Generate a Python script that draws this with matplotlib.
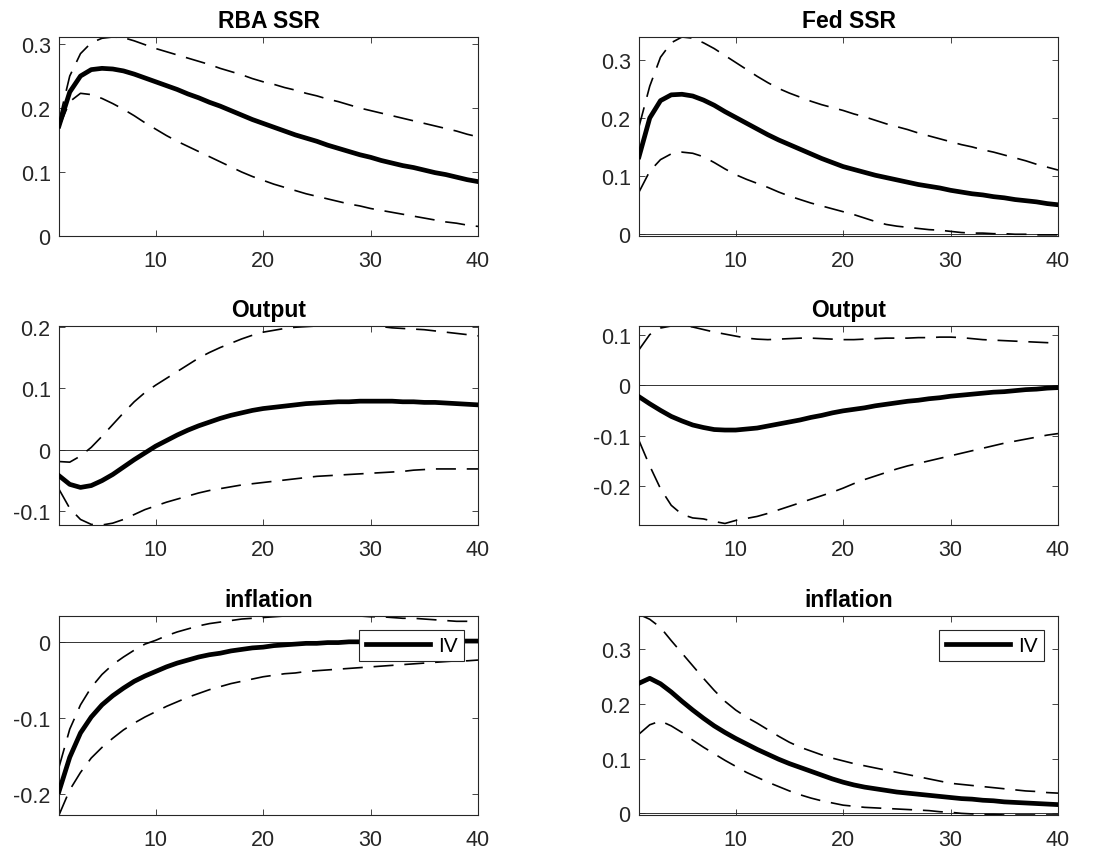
import matplotlib
matplotlib.use("Agg")
import matplotlib.pyplot as plt
from matplotlib.ticker import FixedLocator, FuncFormatter

plt.rcParams['font.family'] = ['Liberation Sans', 'DejaVu Sans']

horizons = list(range(1, 41))

titles = ["RBA SSR", "Fed SSR", "Output", "Output", "inflation", "inflation"]

rba_ssr_mid = [0.172, 0.225, 0.250, 0.260, 0.262, 0.261, 0.258, 0.253, 0.247, 0.241,
               0.235, 0.229, 0.222, 0.216, 0.209, 0.203, 0.196, 0.189, 0.182, 0.176,
               0.170, 0.164, 0.158, 0.153, 0.148, 0.142, 0.137, 0.132, 0.127, 0.123,
               0.118, 0.114, 0.110, 0.107, 0.103, 0.099, 0.096, 0.092, 0.088, 0.085]
rba_ssr_hi = [0.180, 0.250, 0.285, 0.302, 0.309, 0.311, 0.310, 0.305, 0.299, 0.293,
              0.288, 0.283, 0.278, 0.273, 0.268, 0.262, 0.257, 0.252, 0.246, 0.241,
              0.237, 0.232, 0.228, 0.223, 0.219, 0.214, 0.210, 0.205, 0.200, 0.196,
              0.192, 0.188, 0.184, 0.180, 0.176, 0.172, 0.168, 0.164, 0.159, 0.155]
rba_ssr_lo = [0.170, 0.210, 0.223, 0.221, 0.215, 0.207, 0.198, 0.188, 0.177, 0.167,
              0.157, 0.148, 0.140, 0.132, 0.124, 0.116, 0.108, 0.100, 0.093, 0.087,
              0.081, 0.076, 0.071, 0.066, 0.062, 0.058, 0.054, 0.050, 0.047, 0.043,
              0.040, 0.037, 0.034, 0.031, 0.028, 0.025, 0.022, 0.020, 0.017, 0.015]

fed_ssr_mid = [0.133, 0.200, 0.230, 0.240, 0.241, 0.238, 0.231, 0.222, 0.211, 0.201,
               0.191, 0.181, 0.171, 0.162, 0.154, 0.146, 0.138, 0.130, 0.123, 0.116,
               0.111, 0.106, 0.101, 0.097, 0.093, 0.089, 0.085, 0.082, 0.079, 0.075,
               0.072, 0.069, 0.067, 0.064, 0.062, 0.059, 0.057, 0.055, 0.052, 0.050]
fed_ssr_hi = [0.185, 0.255, 0.305, 0.330, 0.340, 0.338, 0.330, 0.320, 0.308, 0.296,
              0.284, 0.272, 0.261, 0.251, 0.243, 0.236, 0.229, 0.223, 0.218, 0.213,
              0.207, 0.202, 0.196, 0.190, 0.185, 0.180, 0.174, 0.169, 0.164, 0.159,
              0.154, 0.150, 0.145, 0.141, 0.136, 0.131, 0.126, 0.120, 0.115, 0.110]
fed_ssr_lo = [0.072, 0.108, 0.128, 0.138, 0.141, 0.139, 0.133, 0.123, 0.112, 0.102,
              0.094, 0.087, 0.080, 0.072, 0.065, 0.059, 0.053, 0.048, 0.043, 0.038,
              0.033, 0.027, 0.021, 0.016, 0.013, 0.011, 0.009, 0.007, 0.006, 0.004,
              0.002, 0.001, 0.001, 0.000, 0.000, -0.001, -0.001, -0.002, -0.002, -0.002]

au_output_mid = [-0.042, -0.056, -0.061, -0.058, -0.050, -0.040, -0.028, -0.016, -0.005, 0.006,
                 0.015, 0.024, 0.032, 0.039, 0.045, 0.051, 0.056, 0.060, 0.064, 0.067,
                 0.069, 0.071, 0.073, 0.075, 0.076, 0.077, 0.078, 0.078, 0.079, 0.079,
                 0.079, 0.079, 0.078, 0.078, 0.077, 0.077, 0.076, 0.075, 0.074, 0.073]
au_output_hi = [-0.019, -0.020, -0.010, 0.004, 0.022, 0.041, 0.060, 0.078, 0.093, 0.105,
                0.116, 0.127, 0.138, 0.149, 0.158, 0.166, 0.173, 0.180, 0.186, 0.191,
                0.194, 0.197, 0.199, 0.200, 0.201, 0.201, 0.202, 0.203, 0.203, 0.202,
                0.200, 0.198, 0.197, 0.196, 0.195, 0.193, 0.191, 0.189, 0.187, 0.185]
au_output_lo = [-0.064, -0.095, -0.113, -0.121, -0.122, -0.119, -0.113, -0.105, -0.097, -0.091,
                -0.085, -0.080, -0.075, -0.070, -0.066, -0.063, -0.060, -0.057, -0.055, -0.053,
                -0.051, -0.049, -0.047, -0.045, -0.043, -0.042, -0.041, -0.040, -0.039, -0.038,
                -0.037, -0.036, -0.035, -0.033, -0.032, -0.031, -0.031, -0.031, -0.031, -0.031]

us_output_mid = [-0.023, -0.037, -0.050, -0.062, -0.071, -0.079, -0.084, -0.088, -0.089, -0.089,
                 -0.087, -0.085, -0.081, -0.077, -0.073, -0.069, -0.064, -0.060, -0.055, -0.051,
                 -0.048, -0.045, -0.041, -0.038, -0.035, -0.032, -0.030, -0.027, -0.025, -0.022,
                 -0.020, -0.018, -0.016, -0.014, -0.013, -0.011, -0.009, -0.008, -0.006, -0.005]
us_output_hi = [0.070, 0.100, 0.113, 0.117, 0.118, 0.115, 0.110, 0.105, 0.101, 0.097,
                0.093, 0.091, 0.090, 0.091, 0.092, 0.093, 0.093, 0.092, 0.091, 0.090,
                0.090, 0.091, 0.092, 0.093, 0.093, 0.093, 0.094, 0.094, 0.095, 0.095,
                0.094, 0.092, 0.090, 0.089, 0.088, 0.087, 0.086, 0.085, 0.084, 0.083]
us_output_lo = [-0.110, -0.160, -0.205, -0.238, -0.256, -0.263, -0.265, -0.270, -0.274, -0.268,
                -0.264, -0.260, -0.254, -0.247, -0.240, -0.233, -0.226, -0.219, -0.212, -0.204,
                -0.195, -0.187, -0.180, -0.173, -0.166, -0.160, -0.155, -0.150, -0.145, -0.140,
                -0.135, -0.130, -0.125, -0.120, -0.115, -0.111, -0.107, -0.103, -0.099, -0.096]

au_infl_mid = [-0.197, -0.152, -0.120, -0.099, -0.083, -0.071, -0.061, -0.052, -0.045, -0.039,
               -0.033, -0.028, -0.024, -0.020, -0.017, -0.015, -0.012, -0.010, -0.008, -0.007,
               -0.005, -0.004, -0.003, -0.002, -0.002, -0.001, -0.001, 0.000, 0.000, 0.000,
               0.001, 0.001, 0.001, 0.001, 0.001, 0.001, 0.001, 0.001, 0.001, 0.001]
au_infl_hi = [-0.165, -0.115, -0.083, -0.060, -0.043, -0.030, -0.020, -0.011, -0.003, 0.002,
              0.008, 0.013, 0.017, 0.021, 0.024, 0.026, 0.028, 0.030, 0.031, 0.032,
              0.033, 0.034, 0.034, 0.035, 0.035, 0.035, 0.035, 0.034, 0.034, 0.033,
              0.033, 0.032, 0.031, 0.031, 0.030, 0.029, 0.028, 0.027, 0.027, 0.026]
au_infl_lo = [-0.228, -0.195, -0.172, -0.153, -0.139, -0.127, -0.116, -0.107, -0.099, -0.092,
              -0.085, -0.079, -0.073, -0.068, -0.063, -0.059, -0.055, -0.052, -0.049, -0.046,
              -0.044, -0.042, -0.041, -0.039, -0.038, -0.037, -0.036, -0.035, -0.034, -0.033,
              -0.032, -0.031, -0.030, -0.029, -0.028, -0.027, -0.026, -0.025, -0.025, -0.024]

us_infl_mid = [0.238, 0.247, 0.237, 0.222, 0.205, 0.189, 0.174, 0.160, 0.148, 0.137,
               0.127, 0.117, 0.108, 0.099, 0.091, 0.084, 0.077, 0.070, 0.063, 0.057,
               0.052, 0.048, 0.045, 0.042, 0.039, 0.037, 0.035, 0.033, 0.031, 0.029,
               0.027, 0.026, 0.024, 0.023, 0.021, 0.020, 0.019, 0.018, 0.017, 0.016]
us_infl_hi = [0.364, 0.355, 0.340, 0.316, 0.293, 0.270, 0.247, 0.225, 0.205, 0.189,
              0.176, 0.165, 0.153, 0.141, 0.130, 0.121, 0.114, 0.107, 0.101, 0.096,
              0.091, 0.087, 0.083, 0.079, 0.075, 0.071, 0.067, 0.063, 0.059, 0.055,
              0.053, 0.051, 0.049, 0.047, 0.045, 0.043, 0.041, 0.040, 0.038, 0.037]
us_infl_lo = [0.145, 0.162, 0.169, 0.160, 0.148, 0.134, 0.121, 0.109, 0.097, 0.086,
              0.075, 0.066, 0.057, 0.049, 0.041, 0.034, 0.028, 0.023, 0.019, 0.015,
              0.013, 0.011, 0.010, 0.009, 0.008, 0.007, 0.006, 0.005, 0.003, 0.002,
              0.000, -0.001, -0.002, -0.002, -0.003, -0.003, -0.003, -0.003, -0.003, -0.003]

series = [
    (rba_ssr_mid, rba_ssr_lo, rba_ssr_hi),
    (fed_ssr_mid, fed_ssr_lo, fed_ssr_hi),
    (au_output_mid, au_output_lo, au_output_hi),
    (us_output_mid, us_output_lo, us_output_hi),
    (au_infl_mid, au_infl_lo, au_infl_hi),
    (us_infl_mid, us_infl_lo, us_infl_hi),
]

ylims = [(0.0, 0.311), (-0.004, 0.340), (-0.122, 0.201),
         (-0.277, 0.117), (-0.228, 0.034), (-0.003, 0.361)]
yticks = [[0, 0.1, 0.2, 0.3], [0, 0.1, 0.2, 0.3], [-0.1, 0, 0.1, 0.2],
          [-0.2, -0.1, 0, 0.1], [-0.2, -0.1, 0], [0, 0.1, 0.2, 0.3]]
xticks = [10, 20, 30, 40]
legend_label = "IV"

W, H = 1102, 853
fig = plt.figure(figsize=(W / 100, H / 100), dpi=100)

col_x = [59, 639]
row_top = [38, 327, 617]
ax_w, ax_h = 419, 199

axis_col = '#262626'

def fmt(v, pos):
    if abs(v) < 1e-9:
        return "0"
    return ("%g" % v)

for i in range(6):
    r, c = divmod(i, 2)
    left = col_x[c] / W
    bottom = 1 - (row_top[r] + ax_h) / H
    ax = fig.add_axes([left, bottom, ax_w / W, ax_h / H])
    mid, lo, hi = series[i]
    ax.axhline(0, color='#333333', lw=0.7, zorder=1)
    ax.plot(horizons, hi, color='black', lw=1.2, dashes=(12, 6.5), zorder=2)
    ax.plot(horizons, lo, color='black', lw=1.2, dashes=(12, 6.5), zorder=2)
    ln, = ax.plot(horizons, mid, color='black', lw=3.4, zorder=3,
                  solid_joinstyle='round', label=legend_label)
    ax.set_xlim(1, 40)
    ax.set_ylim(*ylims[i])
    ax.xaxis.set_major_locator(FixedLocator(xticks))
    ax.yaxis.set_major_locator(FixedLocator(yticks[i]))
    ax.yaxis.set_major_formatter(FuncFormatter(fmt))
    ax.tick_params(direction='in', length=4, width=0.6, colors=axis_col,
                   labelsize=15.5, top=True, right=True)
    ax.tick_params(axis='y', pad=6)
    ax.tick_params(axis='x', pad=10)
    for sp in ax.spines.values():
        sp.set_color(axis_col)
        sp.set_linewidth(0.8)
    ax.set_title(titles[i], fontsize=16.5, fontweight='bold', pad=7)
    if r == 2:
        leg = ax.legend(handles=[ln], loc='upper right', fontsize=15,
                        frameon=True, fancybox=False, edgecolor=axis_col,
                        framealpha=1.0, handlelength=3.1, handletextpad=0.4,
                        borderpad=0.3, borderaxespad=0.65)
        leg.get_frame().set_linewidth(0.8)

fig.savefig("out.png", dpi=100)
